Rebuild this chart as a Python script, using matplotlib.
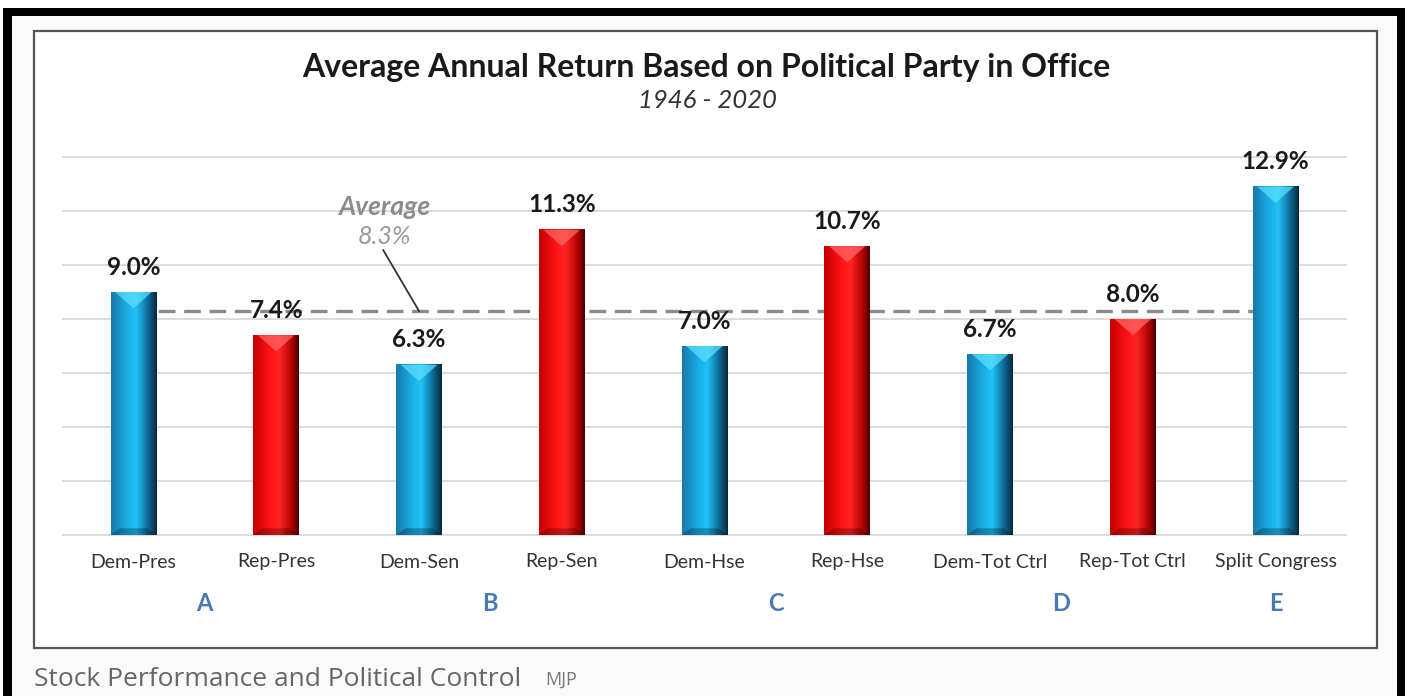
import numpy as np
import matplotlib
matplotlib.use("Agg")
import matplotlib.pyplot as plt
from matplotlib.colors import LinearSegmentedColormap
from matplotlib.patches import Rectangle, Polygon

categories = ["Dem-Pres", "Rep-Pres", "Dem-Sen", "Rep-Sen", "Dem-Hse",
              "Rep-Hse", "Dem-Tot Ctrl", "Rep-Tot Ctrl", "Split Congress"]
returns = [9.0, 7.4, 6.3, 11.3, 7.0, 10.7, 6.7, 8.0, 12.9]
party = ["D", "R", "D", "R", "D", "R", "D", "R", "D"]
groups = ["A", "B", "C", "D", "E"]
group_pos = [0.5, 2.5, 4.5, 6.5, 8]
average = 8.3

plt.rcParams['font.family'] = ['Lato', 'DejaVu Sans']

W, H = 1409, 696
fig = plt.figure(figsize=(W / 100, H / 100), dpi=100)
fig.patch.set_facecolor("white")


def px_rect(x0, y0, x1, y1, **kw):
    # rectangle given in image pixels (origin top-left)
    r = Rectangle((x0 / W, 1 - y1 / H), (x1 - x0) / W, (y1 - y0) / H,
                  transform=fig.transFigure, **kw)
    fig.patches.append(r)
    return r


# page background, black frame, chart frame
px_rect(12, 16, 1397, 696, facecolor="#fafafa", edgecolor="none", zorder=0)
px_rect(34, 31, 1377, 648, facecolor="white", edgecolor="#555555", lw=1.6, zorder=1)
px_rect(3, 8, 1405, 16, facecolor="black", edgecolor="none", zorder=2)
px_rect(3, 8, 12, 696, facecolor="black", edgecolor="none", zorder=2)
px_rect(1397, 8, 1405, 696, facecolor="black", edgecolor="none", zorder=2)

# axes: x -0.5..8.5 -> px 62..1347, y -0.1..14.1 -> 27 px per unit, 0 at px 535
ax = fig.add_axes([62 / W, (H - 537.7) / H, (1347 - 62) / W, (537.7 - 154.3) / H])
ax.set_xlim(-0.5, 8.5)
ax.set_ylim(-0.1, 14.1)
ax.set_facecolor("none")
ax.set_zorder(3)
for s in ax.spines.values():
    s.set_visible(False)
ax.set_xticks([])
ax.set_yticks([])

for g in np.arange(0, 15, 2):
    ax.axhline(g, color="#dcdcdc", lw=1.4, zorder=1)

ax.hlines(average, 0, 8, colors="#8a8a8a", linestyles=(0, (5, 2.6)), lw=2.4, zorder=2)

blue_cmap = LinearSegmentedColormap.from_list(
    "b", [(0, "#1a78aa"), (0.35, "#18aee6"), (0.55, "#20c2f6"), (0.8, "#0e6d9a"), (1, "#08283c")])
red_cmap = LinearSegmentedColormap.from_list(
    "r", [(0, "#c40000"), (0.38, "#ff1414"), (0.58, "#ff2424"), (0.85, "#b00000"), (1, "#480000")])

bw = 0.32
grad = np.linspace(0, 1, 200).reshape(1, -1)
for i, (v, p) in enumerate(zip(returns, party)):
    cmap = blue_cmap if p == "D" else red_cmap
    ax.imshow(grad, cmap=cmap, aspect="auto", extent=(i - bw / 2, i + bw / 2, 0, v),
              zorder=4, interpolation="bilinear")
    tri_c = "#5fe0ff" if p == "D" else "#ff6a6a"
    ax.add_patch(Polygon([(i - bw * 0.4, v), (i + bw * 0.4, v), (i, v - 0.6)],
                         closed=True, facecolor=tri_c, edgecolor="none", alpha=0.7, zorder=5))
    ax.add_patch(Polygon([(i - bw / 2, 0), (i + bw / 2, 0), (i + bw * 0.3, 0.25), (i - bw * 0.3, 0.25)],
                         closed=True, facecolor="black", edgecolor="none", alpha=0.25, zorder=5))
    ax.text(i, v + 0.5, f"{v:.1f}%", ha="center", va="bottom", fontsize=17.5,
            fontweight="bold", color="#1a1a1a", zorder=6)
    ax.text(i, -1.0, categories[i], ha="center", va="center", fontsize=14,
            color="#333333", clip_on=False)

for gx, gl in zip(group_pos, groups):
    ax.text(gx, -2.52, gl, ha="center", va="center", fontsize=17, fontweight="bold",
            color="#4a78b4", clip_on=False)

# average callout
ax.text(1.76, 12.15, "Average", ha="center", va="center", fontsize=19, style="italic",
        fontweight="bold", color="#8c8c8c")
ax.text(1.76, 11.05, f"{average}%", ha="center", va="center", fontsize=18, style="italic",
        color="#9a9a9a")
ax.plot([1.75, 2.0], [10.55, average], color="#333333", lw=1.3, zorder=3)

fig.text(706 / W, 1 - 67 / H, "Average Annual Return Based on Political Party in Office",
         ha="center", va="center", fontsize=23, fontweight="bold", color="#1a1a1a")
fig.text(707 / W, 1 - 101 / H, "1946 - 2020", ha="center", va="center", fontsize=18.5,
         style="italic", color="#333333")

fig.text(34 / W, 1 - 679 / H, "Stock Performance and Political Control", ha="left",
         va="center", fontsize=19, color="#666666", family=["Open Sans", "DejaVu Sans"])
fig.text(545 / W, 1 - 680 / H, "MJP", ha="left", va="center", fontsize=13,
         color="#777777", family=["Open Sans", "DejaVu Sans"])

fig.savefig("out.png", dpi=100)
